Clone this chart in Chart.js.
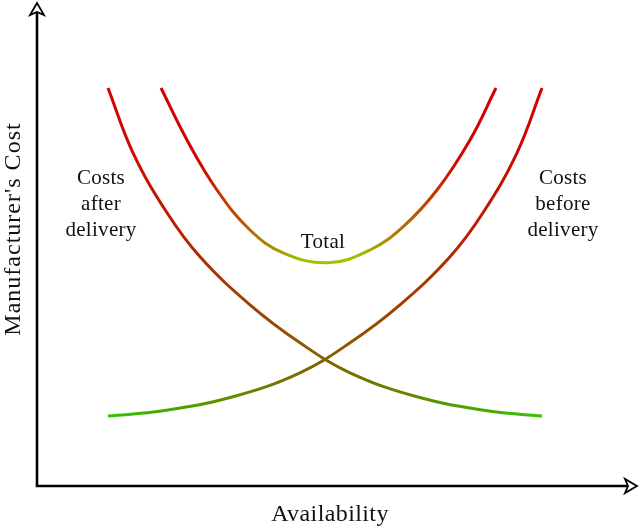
<!DOCTYPE html>
<html>
<head>
<meta charset="utf-8">
<script src="https://cdn.jsdelivr.net/npm/chart.js@4"></script>
<style>
  html, body { margin: 0; padding: 0; background: #fff; }
  #wrap { width: 640px; height: 527px; position: relative; }
</style>
</head>
<body>
<div id="wrap"><canvas id="costChart"></canvas></div>
<script>
// values (x = availability, y = cost, no units)
const afterX = [1.44, 1.94, 2.62, 3.28, 4.28, 5.28, 6.28, 7.62, 9.02, 10.12];
const afterY = [9.95, 8.33, 6.83, 5.73, 4.53, 3.58, 2.83, 2.23, 1.88, 1.75];

const beforeX = [1.44, 2.54, 3.94, 5.28, 6.28, 7.28, 8.28, 8.94, 9.62, 10.12];
const beforeY = [1.75, 1.88, 2.23, 2.83, 3.58, 4.53, 5.73, 6.83, 8.33, 9.95];

const totalX = [2.50, 3.02, 3.62, 4.28, 4.94, 5.84, 6.68, 7.34, 8.02, 8.68, 9.20];
const totalY = [9.95, 8.65, 7.40, 6.40, 5.83, 5.58, 5.90, 6.48, 7.40, 8.65, 9.95];

const xTitle = 'Availability';
const yTitle = "Manufacturer's Cost";

const RED = '#d40000';
const GREEN = '#33c300';
const LIME = '#9cc400';

const toPoints = (xs, ys) => xs.map((x, i) => ({ x: x, y: ys[i] }));

// colour runs along the curve, from its first x to its last x
const gradientFor = (stops) => (context) => {
  const chart = context.chart;
  if (!chart.chartArea) return stops[0][1];
  const data = context.dataset.data;
  const xs = chart.scales.x;
  const x0 = xs.getPixelForValue(data[0].x);
  const x1 = xs.getPixelForValue(data[data.length - 1].x);
  const g = chart.ctx.createLinearGradient(x0, 0, x1, 0);
  stops.forEach(s => g.addColorStop(s[0], s[1]));
  return g;
};

// text next to the curves, anchored in data units
const curveLabels = [
  { lines: ['Costs', 'after', 'delivery'], x: 1.30, y: 7.55 },
  { lines: ['Costs', 'before', 'delivery'], x: 10.54, y: 7.55 },
  { lines: ['Total'], x: 5.74, y: 5.95 }
];

const FONT = '"Liberation Serif", "Times New Roman", serif';

const drawArrow = (ctx, x, y, angle) => {
  ctx.save();
  ctx.translate(x, y);
  ctx.rotate(angle);
  ctx.beginPath();
  ctx.moveTo(0, 0);
  ctx.lineTo(-12, -7);
  ctx.lineTo(-9, 0);
  ctx.lineTo(-12, 7);
  ctx.closePath();
  ctx.fillStyle = '#fff';
  ctx.fill();
  ctx.lineWidth = 1.8;
  ctx.lineJoin = 'miter';
  ctx.strokeStyle = '#000';
  ctx.stroke();
  ctx.restore();
};

const axesPlugin = {
  id: 'axesPlugin',
  afterDraw(chart) {
    const ctx = chart.ctx;
    const area = chart.chartArea;
    const ox = area.left + 1;
    const oy = area.bottom;

    ctx.save();
    ctx.strokeStyle = '#000';
    ctx.lineWidth = 2.6;
    ctx.lineCap = 'butt';
    ctx.beginPath();
    ctx.moveTo(ox, oy + 1.3);
    ctx.lineTo(ox, area.top + 4);
    ctx.moveTo(ox - 1.3, oy);
    ctx.lineTo(area.right - 6, oy);
    ctx.stroke();
    drawArrow(ctx, ox, area.top - 3, -Math.PI / 2);
    drawArrow(ctx, area.right + 1, oy, 0);

    ctx.fillStyle = '#111';
    ctx.textAlign = 'center';
    ctx.textBaseline = 'alphabetic';

    // axis titles
    ctx.font = '24px ' + FONT;
    ctx.letterSpacing = '0.4px';
    ctx.fillText(xTitle, 330, 521);
    ctx.save();
    ctx.translate(20, 229);
    ctx.rotate(-Math.PI / 2);
    ctx.letterSpacing = '1px';
    ctx.fillText(yTitle, 0, 0);
    ctx.restore();

    // curve labels
    ctx.font = '21px ' + FONT;
    ctx.letterSpacing = '0.3px';
    const xs = chart.scales.x;
    const ys = chart.scales.y;
    curveLabels.forEach(l => {
      const px = xs.getPixelForValue(l.x);
      const py = ys.getPixelForValue(l.y);
      l.lines.forEach((t, i) => ctx.fillText(t, px, py + i * 26));
    });
    ctx.restore();
  }
};

const lineStyle = {
  borderWidth: 3,
  pointRadius: 0,
  tension: 0.4,
  fill: false
};

new Chart(document.getElementById('costChart'), {
  type: 'line',
  data: {
    datasets: [
      Object.assign({
        label: 'Costs after delivery',
        data: toPoints(afterX, afterY),
        borderColor: gradientFor([[0, RED], [1, GREEN]])
      }, lineStyle),
      Object.assign({
        label: 'Costs before delivery',
        data: toPoints(beforeX, beforeY),
        borderColor: gradientFor([[0, GREEN], [1, RED]])
      }, lineStyle),
      Object.assign({
        label: 'Total',
        data: toPoints(totalX, totalY),
        borderColor: gradientFor([[0, RED], [0.1, RED], [0.42, LIME], [0.58, LIME], [0.9, RED], [1, RED]])
      }, lineStyle)
    ]
  },
  options: {
    responsive: true,
    maintainAspectRatio: false,
    animation: false,
    layout: { padding: { left: 36, right: 4, top: 6, bottom: 41 } },
    plugins: {
      legend: { display: false },
      tooltip: { enabled: false }
    },
    scales: {
      x: { type: 'linear', min: 0, max: 12, display: false },
      y: { type: 'linear', min: 0, max: 12, display: false }
    }
  },
  plugins: [axesPlugin]
});
</script>
</body>
</html>
